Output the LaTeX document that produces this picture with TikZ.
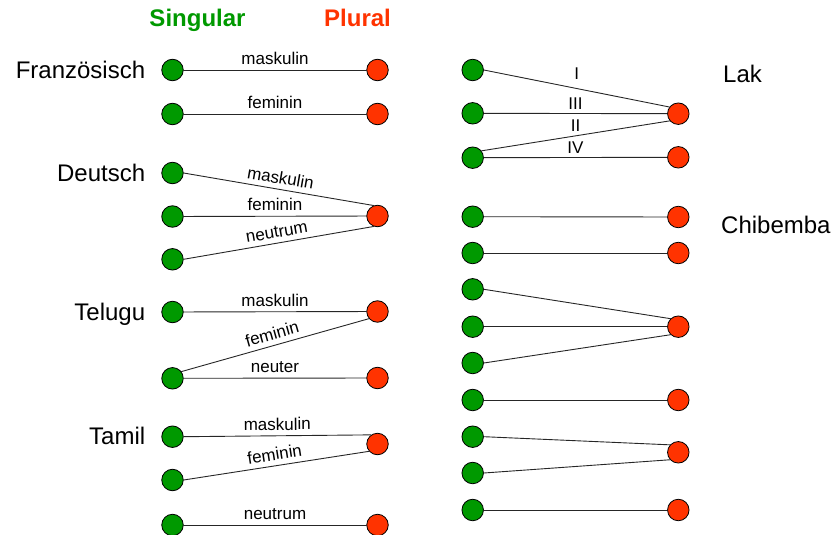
\documentclass[tikz,border=0pt]{standalone}
\usepackage{fontspec}
\setmainfont{Liberation Sans}
\usetikzlibrary{positioning}
\definecolor{sggreen}{RGB}{0,153,0}
\definecolor{plred}{RGB}{255,51,0}
\tikzset{
    hdr/.style={
        font=\fontsize{24}{28}\selectfont\bfseries
    }
}

\begin{document}
\begin{tikzpicture}[x=1pt,y=-1pt, line cap=round, line join=round]

\tikzset{
  main/.style={draw=black!85, line width=0.9pt},
  sg/.style={circle, draw=black, fill=sggreen, line width=0.8pt, minimum size=21.5pt, inner sep=0pt},
  pl/.style={circle, draw=black, fill=plred, line width=0.8pt, minimum size=21.5pt, inner sep=0pt},
  lang/.style={font=\fontsize{24}{28}\selectfont, inner sep=0pt, anchor=base east},
  elab/.style={font=\fontsize{17}{20}\selectfont, inner sep=2pt},
}

\useasboundingbox (0,0) rectangle (833,535);

% column heads
\node[hdr, text=sggreen, anchor=base] (sgHead) at (197.5,26.7) {Singular};
\node[hdr, text=plred, anchor=base] (plHead) at (357.5,26.7) {Plural};

% Franzoesisch
\node[sg] (FS1) at (172.5,70) {};
\node[sg] (FS2) at (172.5,114) {};
\node[pl] (FP1) at (377.5,70) {};
\node[pl] (FP2) at (377.5,114) {};

% Deutsch
\node[sg] (DS1) at (172.5,173) {};
\node[sg] (DS2) at (172.5,216.5) {};
\node[sg] (DS3) at (172.5,259.3) {};
\node[pl] (DP1) at (377.5,216) {};

% Telugu
\node[sg] (TeS1) at (172.5,312) {};
\node[sg] (TeS2) at (172.5,378.3) {};
\node[pl] (TeP1) at (377.5,311.5) {};
\node[pl] (TeP2) at (377.5,378) {};

% Tamil
\node[sg] (TaS1) at (172.5,436.7) {};
\node[sg] (TaS2) at (172.5,480) {};
\node[sg] (TaS3) at (172.5,525) {};
\node[pl] (TaP1) at (377.5,444) {};
\node[pl] (TaP2) at (377.5,525) {};

% Lak
\node[sg] (LS1) at (472.7,70) {};
\node[sg] (LS2) at (472.7,113.3) {};
\node[sg] (LS3) at (472.7,157.7) {};
\node[pl] (LP1) at (678.3,113.7) {};
\node[pl] (LP2) at (678.3,157.3) {};

% Chibemba
\node[sg] (CS1) at (472.7,216.7) {};
\node[sg] (CS2) at (472.7,253) {};
\node[sg] (CS3) at (472.7,289.3) {};
\node[sg] (CS4) at (472.7,326.7) {};
\node[sg] (CS5) at (472.7,363) {};
\node[sg] (CS6) at (472.7,400) {};
\node[sg] (CS7) at (472.7,436.7) {};
\node[sg] (CS8) at (472.7,473) {};
\node[sg] (CS9) at (472.7,510) {};
\node[pl] (CP1) at (678.3,217) {};
\node[pl] (CP2) at (678.3,253) {};
\node[pl] (CP3) at (678.3,326.7) {};
\node[pl] (CP4) at (678.3,400) {};
\node[pl] (CP5) at (678.3,452.3) {};
\node[pl] (CP6) at (678.3,510) {};

% language names
\node[lang] (frLab) at ([xshift=-16pt,yshift=-8pt]FS1.west) {Französisch};
\node[lang] (deLab) at ([xshift=-16pt,yshift=-8pt]DS1.west) {Deutsch};
\node[lang] (teLab) at ([xshift=-16pt,yshift=-8pt]TeS1.west) {Telugu};
\node[lang] (taLab) at ([xshift=-16pt,yshift=-8pt]TaS1.west) {Tamil};
\node[lang, anchor=base west] (lakLab) at (723,83) {Lak};
\node[lang, anchor=base west] (chiLab) at (721,233) {Chibemba};

% Franzoesisch edges
\draw[main] (FS1) -- node[elab, above=3pt, sloped] {maskulin} (FP1);
\draw[main] (FS2) -- node[elab, above=3pt, sloped] {feminin} (FP2);

% Deutsch edges
\draw[main] (DS1.east) -- node[elab, above=3pt, sloped] {maskulin} (DP1.110);
\draw[main] (DS2) -- node[elab, above=3pt, sloped] {feminin} (DP1);
\draw[main] (DS3.east) -- node[elab, above=3pt, sloped] {neutrum} (DP1.250);

% Telugu edges
\draw[main] (TeS1) -- node[elab, above=3pt, sloped] {maskulin} (TeP1);
\draw[main] (TeS2.37) -- node[elab, above=3pt, sloped] {feminin} (TeP1.220);
\draw[main] (TeS2) -- node[elab, above=3pt, sloped] {neuter} (TeP2);

% Tamil edges
\draw[main] (TaS1.east) -- node[elab, above=3pt, sloped] {maskulin} (TaP1.125);
\draw[main] (TaS2.east) -- node[elab, above=3pt, sloped] {feminin} (TaP1.221);
\draw[main] (TaS3) -- node[elab, above=3pt, sloped] {neutrum} (TaP2);

% Lak edges (upright labels)
\draw[main] (LS1.east) -- node[elab, above=7pt] {I} (LP1.143);
\draw[main] (LS2) -- node[elab, above=2pt] {III} (LP1);
\draw[main] (LS3.38) -- node[elab, above=2pt] {II} (LP1.220);
\draw[main] (LS3) -- node[elab, above=2pt] {IV} (LP2);

% Chibemba edges
\draw[main] (CS1) -- (CP1);
\draw[main] (CS2) -- (CP2);
\draw[main] (CS3.east) -- (CP3.134);
\draw[main] (CS4) -- (CP3);
\draw[main] (CS5.east) -- (CP3.226);
\draw[main] (CS6) -- (CP4);
\draw[main] (CS7.east) -- (CP5.138);
\draw[main] (CS8.east) -- (CP5.222);
\draw[main] (CS9) -- (CP6);

\end{tikzpicture}
\end{document}
